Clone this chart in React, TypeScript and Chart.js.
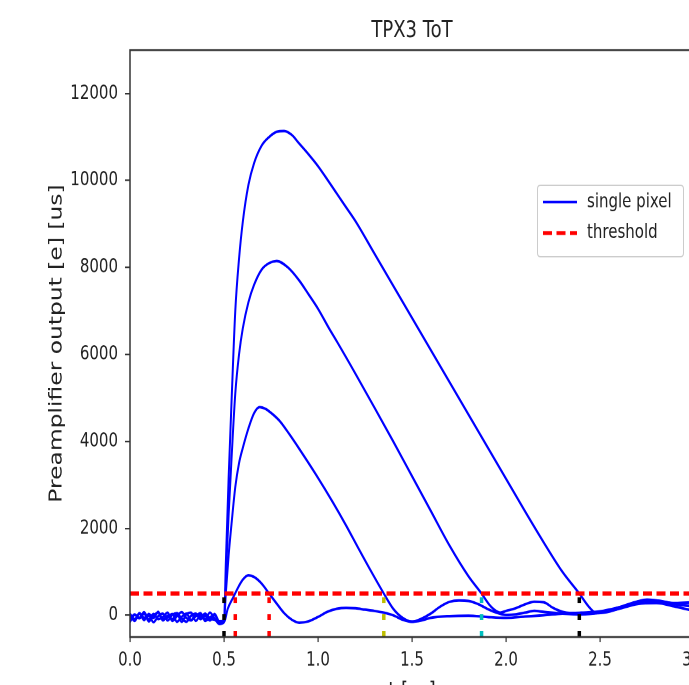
import React, { useEffect, useRef } from "react";
import { Chart, registerables } from "chart.js";

Chart.register(...registerables);

// ---------------- data ----------------
const X_MIN = 0;
const X_MAX = 3;
const Y_MIN = -500;
const Y_MAX = 13000;
const X_TICKS = [0, 0.5, 1, 1.5, 2, 2.5, 3];
const Y_TICKS = [0, 2000, 4000, 6000, 8000, 10000, 12000];
const THRESHOLD = 500;
const TITLE = "TPX3 ToT";
const X_LABEL = "t [us]";
const Y_LABEL = "Preamplifier output [e] [us]";

const BASE_X = [0, 0.025, 0.05, 0.075, 0.1, 0.125, 0.15, 0.175, 0.2, 0.225,
  0.25, 0.275, 0.3, 0.325, 0.35, 0.375, 0.4, 0.425, 0.45, 0.475];

// smallest pulse (~900 e)
const PULSE_A_X = [...BASE_X,
  0.5, 0.52, 0.55, 0.58, 0.6, 0.63, 0.66, 0.7, 0.74, 0.78, 0.82, 0.86, 0.9, 0.95,
  1.0, 1.05, 1.1, 1.15, 1.2, 1.25, 1.3, 1.35, 1.4, 1.45, 1.5, 1.55, 1.6,
  1.7, 1.8, 1.9, 2.0, 2.1, 2.2, 2.3, 2.4, 2.5, 2.6, 2.7, 2.75, 2.8, 2.9, 3.0];
const PULSE_A_Y = [-100, 20, -70, 40, -140, -10, 60, -90, -50, 30, -150, -40, 40, -110, -20, 50, -130, -50, 10, -150,
  -150, 150, 420, 680, 820, 920, 880, 730, 500, 270, 50, -100, -170, -140,
  -40, 80, 150, 170, 160, 130, 100, 60, 0, -100, -150, -120, -60,
  -20, -10, -40, -60, -30, 0, 40, 60, 90, 180, 300, 330, 320, 250, 200];

// ~4800 e pulse
const PULSE_B_X = [...BASE_X,
  0.5, 0.51, 0.525, 0.54, 0.56, 0.58, 0.6, 0.63, 0.66, 0.69,
  0.72, 0.76, 0.8, 0.85, 0.9, 0.99, 1.08, 1.15, 1.21, 1.28, 1.35,
  1.4, 1.45, 1.5, 1.55, 1.6, 1.65, 1.7, 1.75, 1.8, 1.85,
  1.9, 1.95, 2.0, 2.05, 2.1, 2.15, 2.2, 2.3, 2.4, 2.5,
  2.6, 2.7, 2.8, 2.9, 3.0];
const PULSE_B_Y = [30, -90, 50, -60, -10, -160, -20, 40, -120, 10, 50, -80, -150, -10, 40, -90, -10, -120, 30, -140,
  -130, 530, 1400, 2100, 2950, 3500, 3850, 4300, 4650, 4790,
  4750, 4620, 4450, 4150, 3830, 3230, 2590, 2060, 1580, 1030, 500,
  150, -60, -150, -80, 40, 200, 310, 340, 330, 260,
  150, 60, 10, 20, 60, 100, 80, 40, 20, 60,
  150, 260, 280, 200, 100];

// ~8150 e pulse
const PULSE_C_X = [...BASE_X,
  0.5, 0.51, 0.525, 0.54, 0.56, 0.58, 0.6, 0.63, 0.66, 0.7,
  0.74, 0.78, 0.84, 0.9, 0.95, 1.0, 1.06, 1.1, 1.2, 1.3,
  1.4, 1.5, 1.6, 1.7, 1.8, 1.87, 1.91, 1.94, 1.97, 2.0,
  2.05, 2.1, 2.15, 2.2, 2.25, 2.3, 2.4, 2.5, 2.6, 2.7,
  2.75, 2.8, 2.9, 3.0];
const PULSE_C_Y = [-150, 10, -60, 70, -100, 30, -90, -40, 60, -130, -20, 70, -60, -120, 30, -40, 40, -80, -100, -180,
  -140, 900, 2350, 3600, 5100, 6000, 6600, 7200, 7600, 7950,
  8100, 8150, 8000, 7700, 7380, 7050, 6590, 6300, 5550, 4780,
  4000, 3200, 2400, 1600, 900, 500, 250, 120, 60, 100,
  160, 250, 310, 300, 170, 80, 40, 60, 180, 320,
  360, 340, 280, 300];

// ~11150 e pulse
const PULSE_D_X = [...BASE_X,
  0.5, 0.51, 0.525, 0.54, 0.56, 0.58, 0.6, 0.63, 0.66, 0.7,
  0.74, 0.78, 0.82, 0.86, 0.9, 0.95, 1.0, 1.05, 1.1, 1.15,
  1.2, 1.3, 1.4, 1.5, 1.6, 1.7, 1.8, 1.9,
  2.0, 2.1, 2.2, 2.3, 2.39, 2.44, 2.48, 2.52, 2.6, 2.7,
  2.76, 2.82, 2.9, 3.0];
const PULSE_D_Y = [10, -130, 40, -110, 30, -60, 80, -120, -10, -90, 30, -150, 20, 60, -130, 0, -90, 60, -70, -200,
  -160, 1230, 3200, 4900, 7000, 8200, 9050, 9900, 10400, 10800,
  11000, 11120, 11140, 11050, 10850, 10600, 10330, 10020, 9700, 9380,
  9060, 8320, 7580, 6840, 6100, 5360, 4620, 3880,
  3140, 2400, 1680, 1000, 500, 200, 50, 60, 150, 310,
  350, 330, 260, 210];

// threshold-crossing times (us)
const CROSSING_X = [0.5, 0.56, 0.74, 1.35, 1.87, 2.39];

const LEGEND_LABELS = ["single pixel", "threshold"];

// ---------------- styles ----------------
const SY = 1.3; // vertical stretch of the picture
const CANVAS_W = 820;
const CANVAS_H = 543;
const FONT = "'DejaVu Sans', 'Noto Sans', sans-serif";
const TEXT = "#222222";
const AXIS = "#333333";
const BLUE = "#0000ff";
const RED = "#ff0000";
const CROSSING_COLORS = ["#000000", "#ff0000", "#ff0000", "#bfbf00", "#00bfbf", "#000000"];

const framePlugin = {
  id: "frame",
  afterDatasetsDraw(chart: any) {
    const { ctx, chartArea: a } = chart;
    ctx.save();
    ctx.strokeStyle = AXIS;
    ctx.lineWidth = 1.5;
    ctx.strokeRect(a.left, a.top, a.right - a.left, a.bottom - a.top);
    ctx.restore();
  },
};

const titlePlugin = {
  id: "centeredTitle",
  afterDraw(chart: any) {
    const { ctx, chartArea: a } = chart;
    ctx.save();
    ctx.fillStyle = TEXT;
    ctx.font = `18px ${FONT}`;
    ctx.textAlign = "center";
    ctx.textBaseline = "middle";
    ctx.fillText(TITLE, (a.left + a.right) / 2, 23.8);
    ctx.restore();
  },
};

const legendPlugin = {
  id: "boxLegend",
  afterDraw(chart: any) {
    const ctx = chart.ctx;
    ctx.save();
    const x0 = 537.5, y0 = 142.5, w = 146, h = 55, r = 3;
    ctx.beginPath();
    ctx.moveTo(x0 + r, y0);
    ctx.lineTo(x0 + w - r, y0);
    ctx.quadraticCurveTo(x0 + w, y0, x0 + w, y0 + r);
    ctx.lineTo(x0 + w, y0 + h - r);
    ctx.quadraticCurveTo(x0 + w, y0 + h, x0 + w - r, y0 + h);
    ctx.lineTo(x0 + r, y0 + h);
    ctx.quadraticCurveTo(x0, y0 + h, x0, y0 + h - r);
    ctx.lineTo(x0, y0 + r);
    ctx.quadraticCurveTo(x0, y0, x0 + r, y0);
    ctx.closePath();
    ctx.fillStyle = "rgba(255,255,255,0.85)";
    ctx.fill();
    ctx.strokeStyle = "#cccccc";
    ctx.lineWidth = 1;
    ctx.stroke();
    const styles = [
      { color: BLUE, width: 2, dash: [] as number[] },
      { color: RED, width: 3, dash: [9, 4.5] },
    ];
    LEGEND_LABELS.forEach((label, i) => {
      const y = 155.4 + i * 23.8;
      const s = styles[i];
      ctx.beginPath();
      ctx.setLineDash(s.dash);
      ctx.strokeStyle = s.color;
      ctx.lineWidth = s.width;
      ctx.moveTo(543, y);
      ctx.lineTo(577, y);
      ctx.stroke();
      ctx.setLineDash([]);
      ctx.fillStyle = TEXT;
      ctx.font = `15px ${FONT}`;
      ctx.textBaseline = "middle";
      ctx.textAlign = "left";
      ctx.fillText(label, 587, y);
    });
    ctx.restore();
  },
};

export default function App() {
  const ref = useRef<HTMLCanvasElement>(null);

  useEffect(() => {
    if (!ref.current) return;
    const toPts = (xs: number[], ys: number[]) => xs.map((x, i) => ({ x, y: ys[i] }));
    const pulses = [
      toPts(PULSE_A_X, PULSE_A_Y),
      toPts(PULSE_B_X, PULSE_B_Y),
      toPts(PULSE_C_X, PULSE_C_Y),
      toPts(PULSE_D_X, PULSE_D_Y),
    ];
    const datasets: any[] = [];
    CROSSING_X.forEach((x, i) => {
      datasets.push({
        label: "crossing",
        data: [{ x, y: Y_MIN }, { x, y: THRESHOLD }],
        borderColor: CROSSING_COLORS[i],
        borderWidth: 3.5,
        borderDash: [4.5, 8.5],
        pointRadius: 0,
        order: 0,
      });
    });
    datasets.push({
      label: "threshold",
      data: [{ x: X_MIN, y: THRESHOLD }, { x: X_MAX, y: THRESHOLD }],
      borderColor: RED,
      borderWidth: 3.3,
      borderDash: [9, 4.5],
      pointRadius: 0,
      order: 1,
    });
    pulses.forEach((pts) => {
      datasets.push({
        label: "single pixel",
        data: pts,
        borderColor: BLUE,
        borderWidth: 2,
        pointRadius: 0,
        cubicInterpolationMode: "monotone",
        order: 2,
      });
    });

    const chart = new Chart(ref.current, {
      type: "line",
      data: { datasets },
      options: {
        animation: false,
        responsive: false,
        devicePixelRatio: 2,
        events: [],
        layout: { padding: { left: 0, right: 126, top: 38.5, bottom: 0 } },
        plugins: {
          legend: { display: false },
          tooltip: { enabled: false },
          title: { display: false },
        },
        scales: {
          x: {
            type: "linear",
            min: X_MIN,
            max: X_MAX,
            afterBuildTicks: (s: any) => {
              s.ticks = X_TICKS.map((v) => ({ value: v }));
            },
            afterFit: (s: any) => {
              s.height = 53;
            },
            ticks: {
              callback: (v: any) => Number(v).toFixed(1),
              color: TEXT,
              font: { family: FONT, size: 15 },
              padding: 5,
              maxRotation: 0,
              autoSkip: false,
            },
            grid: {
              display: true,
              drawOnChartArea: false,
              drawTicks: true,
              tickLength: 4,
              color: AXIS,
              lineWidth: 1.2,
            },
            border: { display: false },
            title: {
              display: true,
              text: X_LABEL,
              color: TEXT,
              font: { family: FONT, size: 18 },
              padding: { top: 0, bottom: 0 },
            },
          },
          y: {
            type: "linear",
            min: Y_MIN,
            max: Y_MAX,
            afterBuildTicks: (s: any) => {
              s.ticks = Y_TICKS.map((v) => ({ value: v }));
            },
            afterFit: (s: any) => {
              s.width = 130;
            },
            ticks: {
              callback: (v: any) => String(v),
              color: TEXT,
              font: { family: FONT, size: 15 },
              padding: 7,
              autoSkip: false,
            },
            grid: {
              display: true,
              drawOnChartArea: false,
              drawTicks: true,
              tickLength: 5,
              color: AXIS,
              lineWidth: 1.2,
            },
            border: { display: false },
            title: {
              display: true,
              text: Y_LABEL,
              color: TEXT,
              font: { family: FONT, size: 18 },
              padding: { top: 46, bottom: 0 },
            },
          },
        },
      } as any,
      plugins: [framePlugin, legendPlugin, titlePlugin],
    });
    return () => chart.destroy();
  }, []);

  return (
    <div
      style={{
        position: "fixed",
        left: 0,
        top: 0,
        width: "100vw",
        height: "100vh",
        overflow: "hidden",
        background: "#ffffff",
      }}
    >
      <div
        style={{
          width: CANVAS_W,
          height: CANVAS_H,
          transform: `scaleY(${SY})`,
          transformOrigin: "0 0",
        }}
      >
        <canvas ref={ref} width={CANVAS_W} height={CANVAS_H} style={{ display: "block" }} />
      </div>
    </div>
  );
}
